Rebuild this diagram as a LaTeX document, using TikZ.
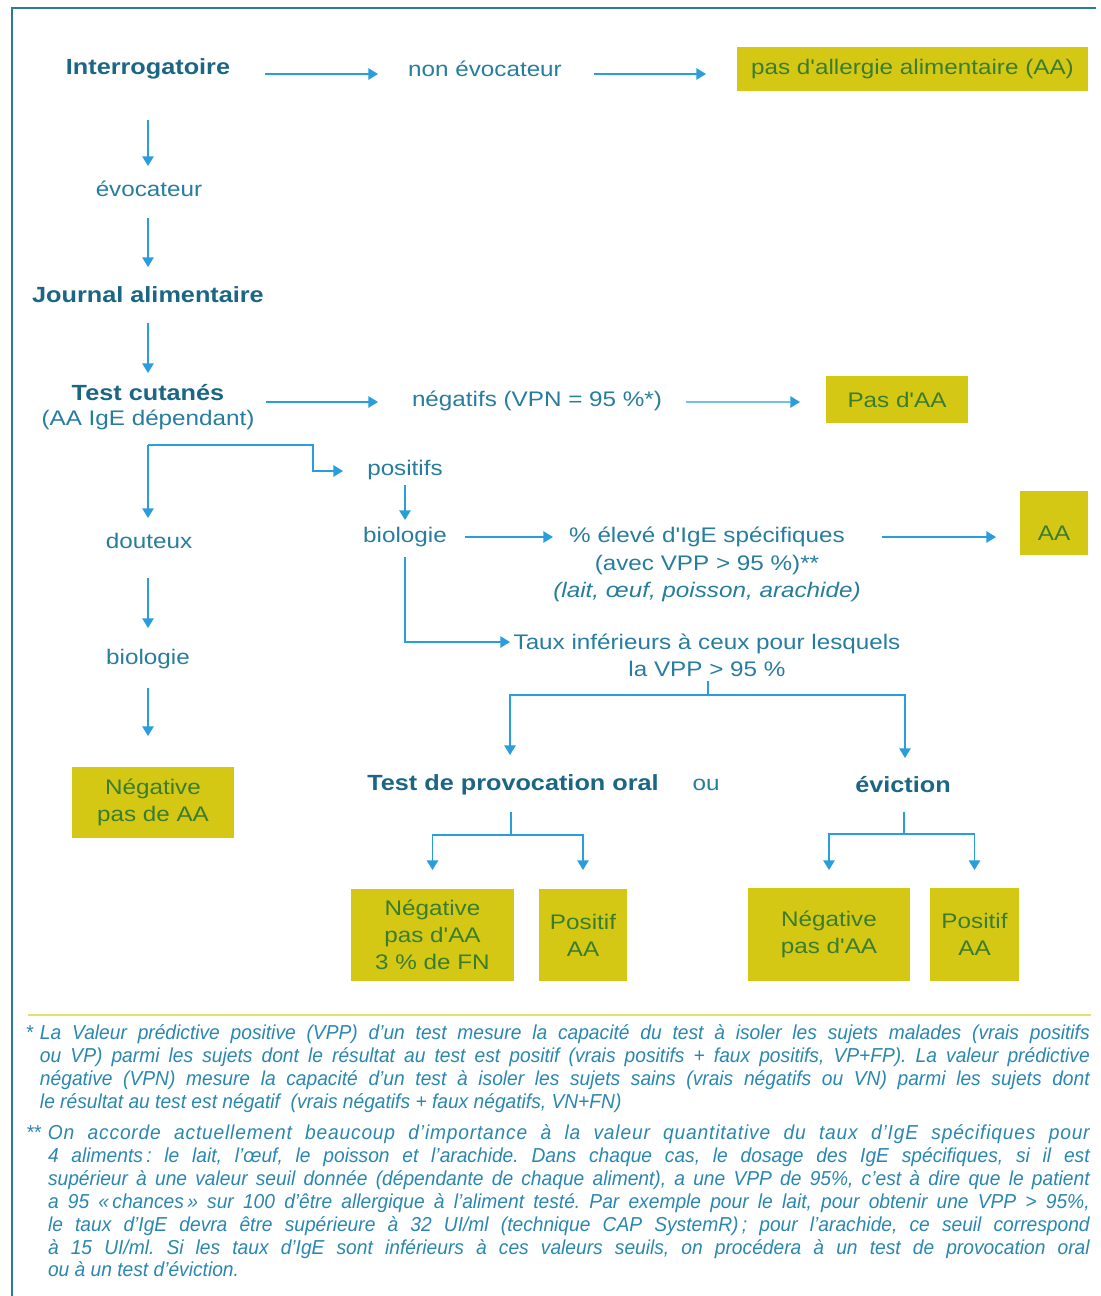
\documentclass[tikz,border=0pt]{standalone}
\usepackage{fontspec}
\setmainfont{Liberation Sans}
\newfontfamily\widefont[FakeStretch=1.15]{Liberation Sans}
\newfontfamily\notefont[FakeStretch=0.95]{Liberation Sans}
\usetikzlibrary{arrows.meta}
\definecolor{framec}{HTML}{2B7D97}
\definecolor{headc}{HTML}{1B6684}
\definecolor{txtc}{HTML}{267D9E}
\definecolor{arrc}{HTML}{2A9DDD}
\definecolor{boxc}{HTML}{D4C814}
\definecolor{boxtc}{HTML}{3B7D2F}
\definecolor{notec}{HTML}{2A87B0}
\definecolor{sepc}{HTML}{E6DF6E}
\begin{document}
\begin{tikzpicture}[x=0.02cm,y=-0.02cm,
  every node/.style={inner sep=0pt, outer sep=0pt},
  hd/.style={text=headc, font=\widefont\bfseries\fontsize{12.5}{15}\selectfont},
  tx/.style={text=txtc, align=center, font=\widefont\fontsize{12}{15.5}\selectfont},
  res/.style={fill=boxc, text=boxtc, align=center, font=\widefont\fontsize{12}{15.3}\selectfont},
  note/.style={anchor=north west, text=notec, align=justify, font=\notefont\itshape\fontsize{11.5}{13}\selectfont\frenchspacing},
  ar/.style={draw=arrc, line width=0.8pt, -{Triangle[length=5.5pt,width=6.5pt]}},
  ln/.style={draw=arrc, line width=0.8pt}
]
\useasboundingbox (0,0) rectangle (1100,1296);
\fill[white] (0,0) rectangle (1100,1296);
\draw[framec, line width=1.4pt] (12,1296) -- (12,8) -- (1096,8);

% nodes
\node[hd] (int) at (148,69) {Interrogatoire};
\node[tx] (nonevo) at (485,69) {non évocateur};
\node[res, minimum width=7.02cm, minimum height=0.88cm] (b1) at (912.5,69) {pas d'allergie alimentaire (AA)};
\node[tx] (evoc) at (149,189) {évocateur};
\node[hd] (journal) at (148,295) {Journal alimentaire};
\node[tx, font=\widefont\fontsize{12}{14.2}\selectfont] (cut) at (148,407.5) {\textcolor{headc}{\bfseries\fontsize{12.5}{14.2}\selectfont Test cutanés}\\(AA IgE dépendant)};
\node[tx] (neg) at (537,401) {négatifs (VPN = 95 \%*)};
\node[res, minimum width=2.84cm, minimum height=0.94cm] (b2) at (897,399.5) {Pas d'AA};
\node[tx] (pos) at (405,470) {positifs};
\node[tx] (bio2) at (405,537) {biologie};
\node[tx] (elev) at (707,564.5) {\% élevé d'IgE spécifiques\\(avec VPP > 95 \%)**\\\itshape (lait, œuf, poisson, arachide)};
\node[res, minimum width=1.36cm, minimum height=1.28cm, text height=20pt, text depth=0pt] (b3) at (1054,523) {AA};
\node[tx] (taux) at (707,655.5) {Taux inférieurs à ceux pour lesquels\\la VPP > 95 \%};
\node[tx] (dout) at (149,541) {douteux};
\node[tx] (bio1) at (148,659) {biologie};
\node[res, minimum width=3.24cm, minimum height=1.42cm] (b4) at (153,802.5) {Négative\\pas de AA};
\node[hd] (tpo) at (513,785) {Test de provocation oral};
\node[tx] (ou) at (706,785) {ou};
\node[hd] (evic) at (903,785) {éviction};
\node[res, minimum width=3.26cm, minimum height=1.84cm] (b5) at (432.5,935) {Négative\\pas d'AA\\3 \% de FN};
\node[res, minimum width=1.76cm, minimum height=1.84cm] (b6) at (583,935) {Positif\\AA};
\node[res, minimum width=3.24cm, minimum height=1.86cm] (b7) at (829,934.5) {Négative\\pas d'AA};
\node[res, minimum width=1.78cm, minimum height=1.86cm] (b8) at (974.5,934.5) {Positif\\AA};

% connectors
\draw[ar] ([shift={(117,5)}]int.center) -- ([shift={(-107,5)}]nonevo.center);
\draw[ar] ([shift={(109,5)}]nonevo.center) -- ([shift={(-206.5,5)}]b1.center);
\draw[ar] ([shift={(0,51)}]int.center) -- ([shift={(-1,-23)}]evoc.center);
\draw[ar] ([shift={(-1,29)}]evoc.center) -- ([shift={(0,-28)}]journal.center);
\draw[ar] ([shift={(0,28)}]journal.center) -- ([shift={(0,-34.5)}]cut.center);
\draw[ar] ([shift={(118,-5.5)}]cut.center) -- ([shift={(-159,1)}]neg.center);
\draw[ar] ([shift={(149,1)}]neg.center) -- ([shift={(-97,2.5)}]b2.center);
\draw[ar] ([shift={(0,37.5)}]cut.center) -- ++(165,0) |- ([shift={(-62,1)}]pos.center);
\draw[ar] ([shift={(0,37.5)}]cut.center) -- ([shift={(-1,-23)}]dout.center);
\draw[ar] ([shift={(-1,37)}]dout.center) -- ([shift={(0,-31)}]bio1.center);
\draw[ar] ([shift={(0,29)}]bio1.center) -- ([shift={(-5,-66.5)}]b4.center);
\draw[ar] ([shift={(0,15)}]pos.center) -- ([shift={(0,-17)}]bio2.center);
\draw[ar] ([shift={(60,0)}]bio2.center) -- ([shift={(-154,-27.5)}]elev.center);
\draw[ar] ([shift={(175,-27.5)}]elev.center) -- ([shift={(-58,14)}]b3.center);
\draw[ar] ([shift={(0,20)}]bio2.center) |- ([shift={(-197,-13.5)}]taux.center);
\draw[ln] ([shift={(1,25.5)}]taux.center) -- ++(0,14) coordinate (tj);
\draw[ar] (tj) -| ([shift={(-3,-30)}]tpo.center);
\draw[ar] (tj) -| ([shift={(2,-27)}]evic.center);
\draw[ln] ([shift={(-2,27)}]tpo.center) -- ++(0,23) coordinate (tpj);
\draw[ar] (tpj) -| ([shift={(0,-65)}]b5.center);
\draw[ar] (tpj) -| ([shift={(0,-65)}]b6.center);
\draw[ln] ([shift={(1,27)}]evic.center) -- ++(0,22) coordinate (ej);
\draw[ar] (ej) -| ([shift={(0,-64.5)}]b7.center);
\draw[ar] (ej) -| ([shift={(0,-64.5)}]b8.center);

% footnotes
\draw[sepc, line width=0.8pt] (28,1015) -- (1091,1015);
\node[note, text width=21cm] (fn1) at (40,1025) {\noindent\llap{*\hspace{4pt}}La Valeur prédictive positive (VPP) d’un test mesure la capacité du test à isoler les sujets malades (vrais positifs\linebreak ou VP) parmi les sujets dont le résultat au test est positif (vrais positifs + faux positifs, VP+FP). La valeur prédictive\linebreak négative (VPN) mesure la capacité d’un test à isoler les sujets sains (vrais négatifs ou VN) parmi les sujets dont\linebreak le résultat au test est négatif\ \ (vrais négatifs + faux négatifs, VN+FN)};
\node[note, text width=20.84cm] (fn2) at (48,1125) {\noindent\llap{**\hspace{4pt}}{\addfontfeature{LetterSpace=4}On accorde actuellement beaucoup d’importance à la valeur quantitative du taux d’IgE spécifiques pour}\linebreak 4 aliments\,: le lait, l’œuf, le poisson et l’arachide. Dans chaque cas, le dosage des IgE spécifiques, si il est\linebreak supérieur à une valeur seuil donnée (dépendante de chaque aliment), a une VPP de 95\%, c’est à dire que le patient\linebreak a 95 «\,chances\,» sur 100 d’être allergique à l’aliment testé. Par exemple pour le lait, pour obtenir une VPP > 95\%,\linebreak le taux d’IgE devra être supérieure à 32 UI/ml (technique CAP SystemR)\,; pour l’arachide, ce seuil correspond\linebreak à 15 UI/ml. Si les taux d’IgE sont inférieurs à ces valeurs seuils, on procédera à un test de provocation oral\linebreak ou à un test d’éviction.};
\end{tikzpicture}
\end{document}
